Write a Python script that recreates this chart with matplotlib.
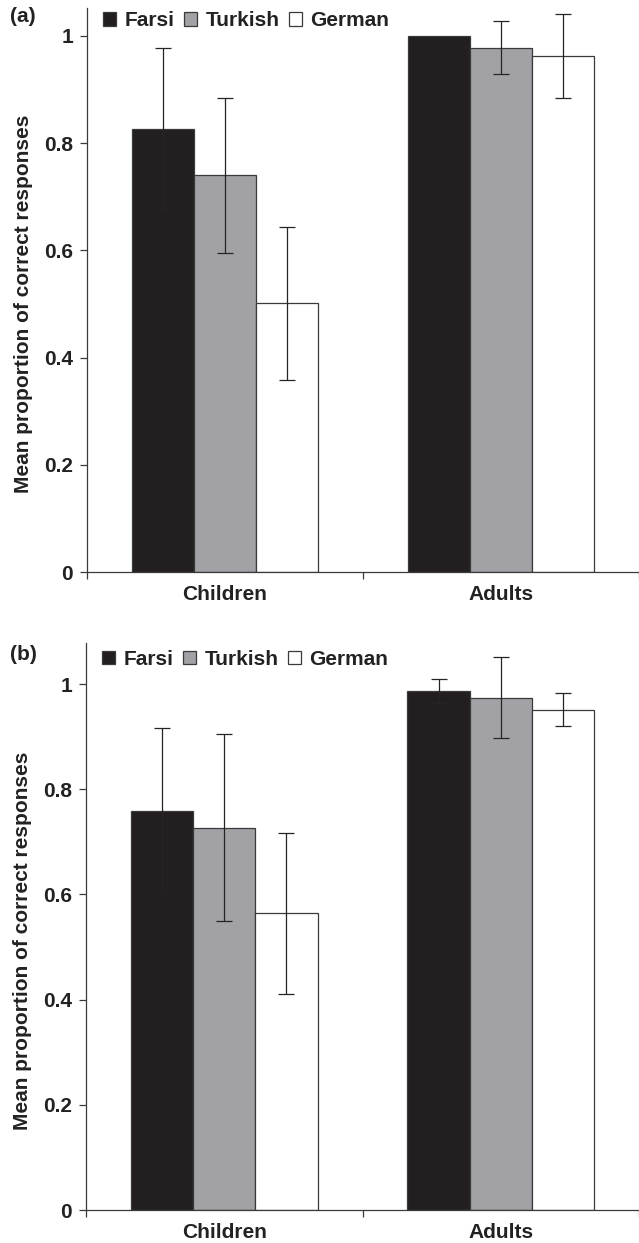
import matplotlib
matplotlib.use("Agg")
import matplotlib.pyplot as plt
import numpy as np

# ---- data ----
groups = ["Children", "Adults"]
languages = ["Farsi", "Turkish", "German"]

# Panel (a)
a_means = {"Farsi": [0.827, 1.000], "Turkish": [0.740, 0.978], "German": [0.501, 0.963]}
a_errs = {"Farsi": [0.150, 0.0], "Turkish": [0.145, 0.050], "German": [0.142, 0.078]}

# Panel (b)
b_means = {"Farsi": [0.758, 0.987], "Turkish": [0.727, 0.974], "German": [0.564, 0.951]}
b_errs = {"Farsi": [0.158, 0.023], "Turkish": [0.178, 0.077], "German": [0.153, 0.031]}

y_ticks = [0, 0.2, 0.4, 0.6, 0.8, 1.0]
y_tick_labels = ["0", "0.2", "0.4", "0.6", "0.8", "1"]

colors = {"Farsi": "#231f20", "Turkish": "#a2a2a6", "German": "#ffffff"}

plt.rcParams['font.family'] = ['Liberation Sans', 'DejaVu Sans']
plt.rcParams['font.weight'] = 'bold'

W, H = 639, 1243
fig = plt.figure(figsize=(W / 100, H / 100), dpi=100)

line_col = "#3a3a3a"
err_col = "#242424"


def draw_panel(ax, means, errs, ymax, legend_y, ylabel_y):
    x = np.arange(len(groups))
    width = 0.225
    offsets = [-width, 0.0, width]
    for lang, off in zip(languages, offsets):
        ax.bar(x + off, means[lang], width, color=colors[lang],
               edgecolor=line_col, linewidth=0.9, label=lang, zorder=2)
        e = np.array(errs[lang])
        m = np.array(means[lang])
        mask = e > 0
        ax.errorbar((x + off)[mask], m[mask], yerr=e[mask], fmt="none",
                    ecolor=err_col, elinewidth=0.9, capsize=6,
                    capthick=0.9, zorder=3)
    ax.set_xlim(-0.5, 1.5)
    ax.set_ylim(0, ymax)
    ax.set_xticks(x)
    ax.set_xticklabels(groups, fontsize=15, fontweight='bold')
    ax.set_xticks([-0.5, 0.5, 1.5], minor=True)
    ax.tick_params(axis='x', which='major', length=0, pad=9)
    ax.tick_params(axis='x', which='minor', length=5, width=0.9,
                   color=line_col, direction='out')
    ax.set_yticks(y_ticks)
    ax.set_yticklabels(y_tick_labels, fontsize=15, fontweight='bold')
    ax.tick_params(axis='y', length=5, width=0.9, color=line_col, pad=5,
                   direction='out')
    for s in ["top", "right"]:
        ax.spines[s].set_visible(False)
    for s in ["left", "bottom"]:
        ax.spines[s].set_color(line_col)
        ax.spines[s].set_linewidth(0.9)
    ax.set_ylabel("Mean proportion of correct responses", fontsize=15,
                  fontweight='bold', color="#222222")
    ax.yaxis.set_label_coords(-0.098, ylabel_y)
    leg = ax.legend(loc='center left', bbox_to_anchor=(0.029, legend_y),
                    ncol=3, frameon=False, fontsize=15,
                    handlelength=0.62, handleheight=0.62,
                    handletextpad=0.43, columnspacing=0.43,
                    borderpad=0, borderaxespad=0)
    for t in leg.get_texts():
        t.set_fontweight('bold')
        t.set_color("#222222")
    for tl in ax.get_xticklabels() + ax.get_yticklabels():
        tl.set_color("#222222")


ax_a = fig.add_axes([87 / W, (H - 572) / H, (W - 87) / W, (572 - 8) / H])
draw_panel(ax_a, a_means, a_errs, 1.052, (572 - 21) / 564, 0.475)

ax_b = fig.add_axes([86 / W, (H - 1210) / H, (W - 86) / W, (1210 - 643) / H])
draw_panel(ax_b, b_means, b_errs, 1.078, (1210 - 659.5) / 567, 0.475)

fig.text(10 / W, 1 - 17 / H, "(a)", fontsize=15, fontweight='bold',
         va='center', ha='left', color="#222222")
fig.text(10 / W, 1 - 655 / H, "(b)", fontsize=15, fontweight='bold',
         va='center', ha='left', color="#222222")

fig.savefig("out.png", dpi=100)
